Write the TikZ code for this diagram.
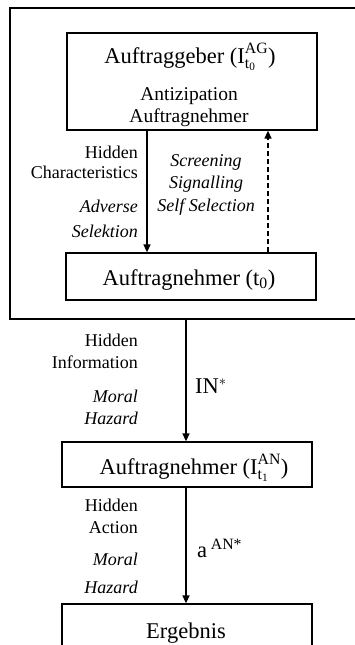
\documentclass[tikz,border=0pt]{standalone}
\usepackage{fontspec}
\usepackage{amsmath}
\setmainfont{Liberation Serif}
\usetikzlibrary{arrows.meta}
\begin{document}
\begin{tikzpicture}[x=1pt,y=-1pt,
  box/.style={draw,line width=1.3pt,inner sep=0pt,minimum width=250pt},
  lbl/.style={inner sep=0pt,font=\fontsize{18}{22}\selectfont},
  ilbl/.style={lbl,font=\fontsize{18}{22}\selectfont\itshape},
  big/.style={inner sep=0pt,font=\fontsize{22.5}{27}\selectfont},
  mid/.style={inner sep=0pt,font=\fontsize{19.5}{24}\selectfont},
  arr/.style={line width=1.3pt,-{Triangle[length=8pt,width=7pt]}},
  dsh/.style={arr,dash pattern=on 5pt off 3pt}
]
\useasboundingbox (0,0) rectangle (355,645);
\clip (0,0) rectangle (355,645);

% frame and boxes
\node[draw,line width=1.3pt,inner sep=0pt,minimum width=352pt,minimum height=311pt] (frame) at (186,163.5) {};
\node[box,minimum height=97pt] (boxA) at (192,81.5) {};
\node[box,minimum height=47pt] (boxB) at (191,276.5) {};
\node[box,minimum height=45pt] (boxC) at (187,464.5) {};
\node[box,minimum height=56pt] (boxD) at (187,632) {};

% box texts
\node[big,anchor=base] (tA) at (190,63) {Auftraggeber ($\text{I}^{\text{AG}}_{\text{t}_{\text{0}}}$)};
\node[mid,anchor=base] (tA2) at (189,100) {Antizipation};
\node[mid,anchor=base] (tA3) at (189,122) {Auftragnehmer};
\node[big,anchor=base] (tB) at (189,285) {Auftragnehmer (t$_{\text{0}}$)};
\node[big,anchor=base] (tC) at (194,474) {Auftragnehmer ($\text{I}^{\text{AN}}_{\text{t}_{\text{1}}}$)};
\node[big,anchor=base] (tD) at (186,638) {Ergebnis};

% labels upper
\node[lbl,anchor=base east] (l1) at (138,158) {Hidden};
\node[lbl,anchor=base east] (l2) at (138,178) {Characteristics};
\node[ilbl,anchor=base east] (l3) at (138,212) {Adverse};
\node[ilbl,anchor=base east] (l4) at (138,237) {Selektion};
\node[ilbl,anchor=base] (s1) at (206,166) {Screening};
\node[ilbl,anchor=base] (s2) at (206,188) {Signalling};
\node[ilbl,anchor=base] (s3) at (206,211) {Self Selection};

% labels lower 1
\node[lbl,anchor=base east] (m1) at (138,346) {Hidden};
\node[lbl,anchor=base east] (m2) at (138,368) {Information};
\node[ilbl,anchor=base east] (m3) at (138,402) {Moral};
\node[ilbl,anchor=base east] (m4) at (138,424) {Hazard};
\node[big,anchor=base west] (in) at (195,393) {IN$^{*}$};

% labels lower 2
\node[lbl,anchor=base east] (n1) at (138,511) {Hidden};
\node[lbl,anchor=base east] (n2) at (138,533) {Action};
\node[ilbl,anchor=base east] (n3) at (138,565) {Moral};
\node[ilbl,anchor=base east] (n4) at (138,593) {Hazard};
\node[big,anchor=base west] (an) at (197,557) {a\,$^{\text{AN*}}$};

% connectors
\coordinate (xa) at (147,0);
\coordinate (xd) at (268,0);
\coordinate (xm) at (186,0);
\draw[arr] (boxA.south -| xa) -- (boxB.north -| xa);
\draw[dsh] (boxB.north -| xd) -- (boxA.south -| xd);
\draw[arr] (frame.south -| xm) -- (boxC.north -| xm);
\draw[arr] (boxC.south -| xm) -- (boxD.north -| xm);
\end{tikzpicture}
\end{document}
